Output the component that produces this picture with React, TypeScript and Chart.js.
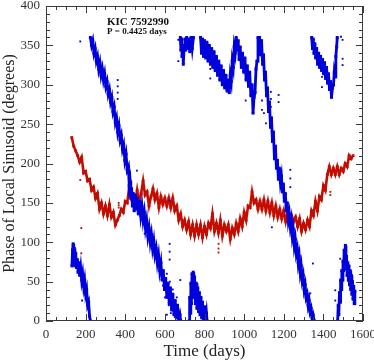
import React, { useEffect, useRef } from "react";
import { Chart, registerables } from "chart.js";

Chart.register(...registerables);

// ---------- data ----------
const redDays = [
  130, 140, 150, 160, 170, 180, 190, 200, 210, 220, 230, 240, 250, 260, 270, 280, 290, 300, 310, 320,
  330, 340, 350, 360, 370, 380, 390, 400, 410, 420, 430, 440, 450, 460, 470, 480, 490, 500, 510, 520,
  530, 540, 550, 560, 570, 580, 590, 600, 610, 620, 630, 640, 650, 660, 670, 680, 690, 700, 710, 720,
  730, 740, 750, 760, 770, 780, 790, 800, 810, 820, 830, 840, 850, 860, 870, 880, 890, 900, 910, 920,
  930, 940, 950, 960, 970, 980, 990, 1000, 1010, 1020, 1030, 1040, 1050, 1060, 1070, 1080, 1090, 1100, 1110, 1120,
  1130, 1140, 1150, 1160, 1170, 1180, 1190, 1200, 1210, 1220, 1230, 1240, 1250, 1260, 1270, 1280, 1290, 1300, 1310, 1320,
  1330, 1340, 1350, 1360, 1370, 1380, 1390, 1400, 1410, 1420, 1430, 1440, 1450, 1460, 1470, 1480, 1490, 1500, 1510, 1520,
  1530, 1540, 1550,
];
const redPhase = [
  233, 222, 216, 210, 202, 208, 188, 190, 178, 180, 166, 170, 156, 162, 142, 150, 136, 146, 134, 148,
  132, 138, 122, 128, 134, 142, 138, 152, 150, 170, 156, 160, 148, 166, 150, 162, 178, 160, 164, 146,
  158, 168, 154, 162, 144, 158, 148, 156, 146, 156, 144, 156, 140, 146, 128, 136, 120, 128, 116, 126,
  110, 122, 108, 122, 110, 122, 106, 120, 110, 124, 118, 136, 114, 124, 112, 128, 108, 122, 114, 122,
  104, 118, 110, 124, 114, 130, 120, 138, 128, 146, 144, 164, 150, 154, 142, 152, 142, 154, 140, 152,
  138, 150, 134, 146, 132, 142, 130, 140, 126, 138, 124, 134, 126, 132, 120, 130, 114, 124, 116, 128,
  120, 140, 134, 152, 140, 158, 154, 172, 166, 186, 196, 186, 194, 186, 196, 186, 194, 190, 200, 196,
  210, 206, 210,
];
const redDotDays = [173, 178, 178, 367, 367, 367, 871, 871, 871, 1435, 1435];
const redDotPhase = [179, 118, 86, 150, 147, 144, 98, 92, 87, 164, 160];

// null marks a wrap (break in the track)
const blueDays = [
  131, 134, 137, 140, 143, 146, 150, 154, 158, 162, 166, 170, 175, 180, 185, 190, 195, 200, 205, 210,
  215, 220, 224, 224,
  224, 230, 236, 242, 248, 254, 260, 266, 272, 278, 284, 290, 296, 302, 308, 314, 320, 326, 332, 338,
  344, 350, 356, 362, 368, 374, 380, 386, 392, 398, 404, 410, 416, 420, 424, 428, 432, 436, 440, 445,
  450, 455, 460, 466, 472, 478, 484, 490, 496, 502, 508, 514, 520, 526, 532, 538, 544, 550, 556, 562,
  568, 574, 580, 586, 592, 598, 604, 610, 616, 622, 628, 634, 640, 646, 652, 658, 664, 670, 676, 680,
  680,
  678, 681, 684, 687, 690, 693, 697, 701, 705, 710, 715, 720, 726, 732, 738, 744, 744,
  722, 725, 728, 731, 734, 737, 740, 743, 746, 750, 754, 758, 762, 766, 770, 774, 778, 782, 786, 790,
  795, 800, 805, 810, 813, 813,
  780, 785, 790, 795, 800, 806, 812, 818, 824, 830, 836, 842, 848, 854, 860, 866, 872, 878, 884, 890,
  896, 902, 908, 914, 920, 925, 930, 935, 940, 945, 950, 955, 960, 965, 970, 975, 980, 986, 992, 998,
  1004, 1010, 1016, 1022, 1028, 1034, 1040, 1045, 1050, 1055, 1060, 1065, 1070, 1074, 1078, 1083, 1088, 1093, 1098, 1103,
  1108, 1113, 1118, 1123, 1128, 1133, 1138, 1143, 1148, 1153, 1158, 1163, 1168, 1173, 1178, 1183, 1188, 1193, 1198, 1203,
  1208, 1213, 1218, 1223, 1228, 1233, 1238, 1243, 1248, 1253, 1258, 1263, 1268, 1273, 1278, 1283, 1288, 1293, 1298, 1303,
  1308, 1313, 1318, 1323, 1328, 1333, 1338, 1343, 1348, 1354, 1354,
  1341, 1345, 1349, 1353, 1357, 1361, 1366, 1371, 1376, 1381, 1386, 1391, 1396, 1401, 1406, 1411, 1416, 1421, 1426, 1431,
  1436, 1441, 1446, 1451, 1455, 1459, 1463, 1467, 1470, 1470,
  1472, 1475, 1478, 1481, 1484, 1487, 1490, 1493, 1496, 1499, 1502, 1505, 1508, 1511, 1514, 1517, 1520, 1523, 1526, 1529,
  1532, 1535, 1538, 1541, 1544, 1547, 1550, 1553, 1556, 1559,
];
const bluePhase = [
  70, 90, 98, 76, 92, 70, 86, 68, 78, 62, 74, 58, 68, 52, 60, 44, 52, 34, 40, 20,
  24, 6, 0, null,
  360, 350, 356, 340, 346, 330, 336, 320, 328, 312, 320, 306, 314, 298, 304, 288, 294, 278, 284, 266,
  272, 252, 258, 240, 248, 230, 236, 218, 224, 204, 212, 192, 196, 172, 178, 156, 168, 146, 162, 140,
  160, 142, 156, 136, 152, 134, 146, 128, 138, 118, 128, 108, 118, 100, 110, 92, 102, 84, 92, 74,
  84, 64, 74, 52, 64, 40, 54, 30, 48, 22, 42, 14, 34, 8, 26, 4, 20, 2, 8, 0,
  null,
  360, 344, 358, 336, 350, 326, 346, 358, 344, 360, 346, 358, 342, 360, 346, 360, null,
  0, 30, 10, 48, 22, 60, 38, 62, 30, 56, 22, 48, 16, 42, 12, 36, 8, 30, 4, 24,
  2, 18, 0, 10, 0, null,
  360, 340, 358, 336, 356, 334, 354, 330, 350, 326, 346, 322, 342, 318, 336, 312, 330, 306, 324, 300,
  318, 296, 312, 292, 306, 290, 312, 304, 330, 322, 348, 340, 360, 344, 356, 332, 348, 322, 340, 316,
  334, 306, 324, 298, 316, 286, 300, 264, 284, 290, 320, 330, 360, 340, 360, 338, 356, 326, 338, 306,
  316, 286, 296, 266, 278, 246, 258, 228, 240, 206, 222, 194, 204, 180, 194, 176, 184, 164, 174, 152,
  162, 140, 150, 128, 136, 120, 128, 108, 116, 96, 104, 86, 92, 74, 82, 62, 70, 52, 58, 40,
  46, 30, 34, 20, 26, 12, 16, 4, 8, 0, null,
  360, 346, 358, 340, 352, 334, 346, 326, 340, 322, 336, 318, 332, 314, 328, 308, 322, 302, 314, 294,
  304, 284, 296, 300, 316, 310, 336, 348, 360, null,
  0, 20, 8, 36, 24, 52, 40, 64, 52, 76, 64, 90, 74, 96, 66, 82, 58, 74, 52, 70,
  46, 64, 40, 58, 34, 50, 28, 44, 22, 38,
];
const blueDotDays = [
  173, 182, 362, 362, 362, 362, 459, 498, 590, 600, 610, 610, 620, 625, 630, 640, 650, 660, 668, 624,
  624, 624, 624, 668, 668, 678, 829, 829, 829, 876, 876, 1008, 1090, 1090, 1100, 1110, 1135, 1135, 1135, 1140,
  1174, 1174, 1233, 1233, 1233, 1334, 1347, 1393, 1393, 1460, 1460, 1485, 1489, 1497, 1497, 1497,
];
const blueDotPhase = [
  355, 26, 306, 298, 290, 282, 191, 111, 45, 30, 60, 8, 20, 50, 10, 40, 5, 30, 15, 153,
  98, 88, 78, 357, 330, 52, 331, 320, 308, 323, 306, 280, 280, 268, 264, 251, 291, 282, 272, 119,
  287, 278, 192, 181, 170, 35, 73, 310, 297, 39, 26, 79, 361, 357, 333, 325,
];

const xTicks = [0, 200, 400, 600, 800, 1000, 1200, 1400, 1600];
const yTicks = [0, 50, 100, 150, 200, 250, 300, 350, 400];
const starName = "KIC 7592990";
const periodText = "P = 0.4425 days";

const BLUE = "#0000dc";
const RED = "#c30d00";
const SERIF = "'Liberation Serif', 'Times New Roman', serif";

const frameAndText = {
  id: "frameAndText",
  afterDatasetsDraw(chart: any) {
    const { ctx, chartArea } = chart;
    const { left, right, top, bottom } = chartArea;
    const xs = chart.scales.x;
    const ys = chart.scales.y;
    ctx.save();
    ctx.strokeStyle = "#3a3a3a";
    ctx.lineWidth = 1;
    ctx.strokeRect(Math.round(left) + 0.5, Math.round(top) + 0.5, Math.round(right - left) - 1, Math.round(bottom - top) - 1);
    ctx.beginPath();
    for (let v = 0; v <= 1600; v += 50) {
      const px = Math.round(xs.getPixelForValue(v)) + 0.5;
      const len = v % 200 === 0 ? 7 : 4;
      ctx.moveTo(px, bottom);
      ctx.lineTo(px, bottom - len);
      ctx.moveTo(px, top);
      ctx.lineTo(px, top + len);
    }
    for (let v = 0; v <= 400; v += 10) {
      const py = Math.round(ys.getPixelForValue(v)) + 0.5;
      const len = v % 50 === 0 ? 7 : 4;
      ctx.moveTo(left, py);
      ctx.lineTo(left + len, py);
      ctx.moveTo(right, py);
      ctx.lineTo(right - len, py);
    }
    ctx.stroke();
    ctx.fillStyle = "#111";
    ctx.textAlign = "left";
    ctx.textBaseline = "middle";
    ctx.font = `bold 11px ${SERIF}`;
    ctx.fillText(starName, xs.getPixelForValue(308), ys.getPixelForValue(380));
    ctx.font = `bold 9px ${SERIF}`;
    ctx.fillText(periodText, xs.getPixelForValue(308), ys.getPixelForValue(367));
    ctx.restore();
  },
};

export default function App() {
  const ref = useRef<HTMLCanvasElement | null>(null);
  useEffect(() => {
    if (!ref.current) return;
    const pts = (xa: any[], ya: any[]) => xa.map((d, i) => ({ x: d, y: ya[i] }));
    const chart = new Chart(ref.current, {
      type: "scatter",
      data: {
        datasets: [
          {
            data: pts(blueDays, bluePhase),
            showLine: true,
            spanGaps: false,
            borderColor: BLUE,
            borderWidth: 2.8,
            backgroundColor: BLUE,
            pointBackgroundColor: BLUE,
            pointBorderWidth: 0,
            pointStyle: "rect",
            pointRadius: 2.1,
            tension: 0,
          } as any,
          {
            data: pts(blueDotDays, blueDotPhase),
            backgroundColor: BLUE,
            borderWidth: 0,
            pointStyle: "rect",
            pointRadius: 1.3,
          },
          {
            data: pts(redDays, redPhase),
            showLine: true,
            borderColor: RED,
            borderWidth: 2.6,
            backgroundColor: RED,
            pointBackgroundColor: RED,
            pointBorderWidth: 0,
            pointStyle: "rect",
            pointRadius: 2,
            tension: 0,
          } as any,
          {
            data: pts(redDotDays, redDotPhase),
            backgroundColor: RED,
            borderWidth: 0,
            pointStyle: "rect",
            pointRadius: 1.3,
          },
        ],
      },
      options: {
        animation: false,
        responsive: false,
        maintainAspectRatio: false,
        layout: { padding: { top: 6, right: 11, left: 0, bottom: 0 } },
        plugins: { legend: { display: false }, tooltip: { enabled: false } },
        scales: {
          x: {
            type: "linear",
            min: 0,
            max: 1600,
            afterBuildTicks: (s: any) => { s.ticks = xTicks.map((v) => ({ value: v })); },
            afterFit: (s: any) => { s.height = 41; s.paddingLeft = 0; s.paddingRight = 0; },
            grid: { display: false, drawTicks: false },
            border: { display: false },
            ticks: { font: { family: SERIF, size: 13 }, color: "#333", padding: 6, maxRotation: 0, autoSkip: false, callback: (v: any) => String(v) },
            title: { display: true, text: "Time (days)", font: { family: SERIF, size: 17 }, color: "#222", padding: { top: 0, bottom: 0 } },
          },
          y: {
            type: "linear",
            min: 0,
            max: 400,
            afterBuildTicks: (s: any) => { s.ticks = yTicks.map((v) => ({ value: v })); },
            afterFit: (s: any) => { s.width = 46; s.paddingTop = 0; s.paddingBottom = 0; },
            grid: { display: false, drawTicks: false },
            border: { display: false },
            ticks: { font: { family: SERIF, size: 13 }, color: "#333", padding: 6, autoSkip: false, callback: (v: any) => String(v) },
            title: { display: true, text: "Phase of Local Sinusoid (degrees)", font: { family: SERIF, size: 16 }, color: "#222", padding: { top: 0, bottom: 2 } },
          },
        },
      },
      plugins: [frameAndText],
    });
    return () => chart.destroy();
  }, []);
  return (
    <div style={{ position: "fixed", left: 0, top: 0, width: 374, height: 362, background: "#fff" }}>
      <canvas ref={ref} width={374} height={362} style={{ width: 374, height: 362 }} />
    </div>
  );
}
